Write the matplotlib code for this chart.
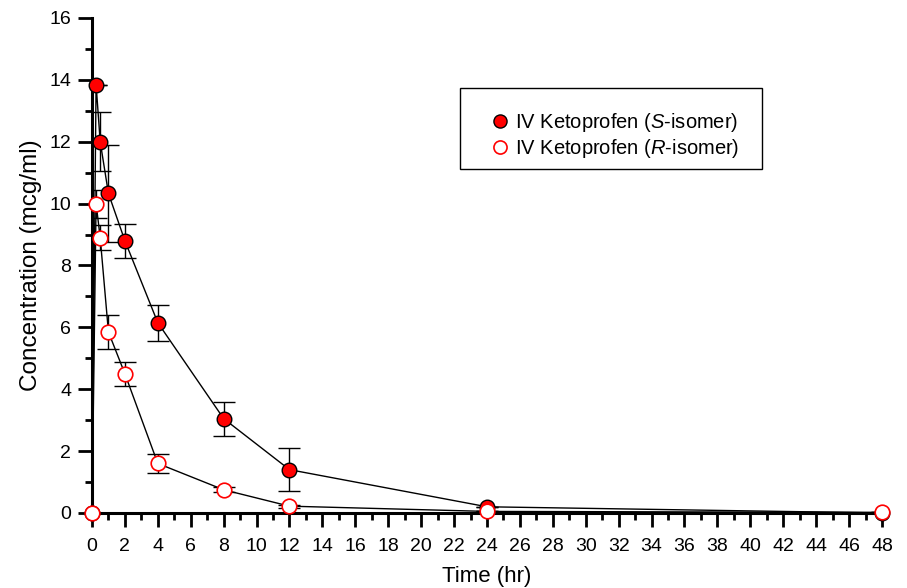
import numpy as np
import matplotlib.pyplot as plt
from matplotlib.ticker import MultipleLocator
from matplotlib.patches import Rectangle

plt.rcParams['font.family'] = ['Liberation Sans', 'DejaVu Sans']
plt.rcParams['mathtext.fontset'] = 'custom'
plt.rcParams['mathtext.rm'] = 'Liberation Sans'
plt.rcParams['mathtext.it'] = 'Liberation Sans:italic'

# time points (hr)
time_s = [0, 0.25, 0.5, 1, 2, 4, 8, 12, 24, 48]
conc_s = [0, 13.85, 12.0, 10.33, 8.8, 6.15, 3.05, 1.4, 0.2, 0.0]
err_s = [0, 0, 0.95, 1.58, 0.55, 0.58, 0.55, 0.69, 0, 0]

time_r = [0, 0.25, 0.5, 1, 2, 4, 8, 12, 24, 48]
conc_r = [0, 10.0, 8.9, 5.85, 4.5, 1.6, 0.75, 0.22, 0.05, 0.02]
err_r = [0, 0.45, 0.4, 0.55, 0.38, 0.3, 0.08, 0.05, 0, 0]

fig = plt.figure(figsize=(9.07, 5.88), dpi=100)
ax = fig.add_axes([0.1014, 0.1276, 0.871, 0.8418])

ax.errorbar(time_s, conc_s, yerr=err_s, fmt='none', ecolor='black',
            elinewidth=1, capsize=8, capthick=1, zorder=2)
ax.errorbar(time_r, conc_r, yerr=err_r, fmt='none', ecolor='black',
            elinewidth=1, capsize=8, capthick=1, zorder=2)

ax.plot(time_s, conc_s, '-', color='black', lw=1, zorder=3)
ax.plot(time_r, conc_r, '-', color='black', lw=1, zorder=3)
ax.plot(time_s, conc_s, 'o', ms=10.5, mfc='#ff0000', mec='black', mew=1,
        ls='none', clip_on=False, zorder=4, label=r'IV Ketoprofen ($\it{S}$-isomer)')
ax.plot(time_r, conc_r, 'o', ms=10.5, mfc='white', mec='#ff0000', mew=1.2,
        ls='none', clip_on=False, zorder=5, label=r'IV Ketoprofen ($\it{R}$-isomer)')

ax.set_xlim(0, 48)
ax.set_ylim(0, 16)
ax.xaxis.set_major_locator(MultipleLocator(2))
ax.xaxis.set_minor_locator(MultipleLocator(1))
ax.yaxis.set_major_locator(MultipleLocator(2))
ax.yaxis.set_minor_locator(MultipleLocator(1))

for s in ['top', 'right']:
    ax.spines[s].set_visible(False)
for s in ['left', 'bottom']:
    ax.spines[s].set_linewidth(2.2)

ax.tick_params(which='major', length=10, width=2, labelsize=14, direction='out')
ax.tick_params(which='minor', length=5, width=2, direction='out')
ax.tick_params(axis='x', which='major', pad=8)
ax.tick_params(axis='y', which='major', pad=5)

ax.set_xlabel('Time (hr)', fontsize=16, labelpad=8)
ax.set_ylabel('Concentration (mcg/ml)', fontsize=17.5, labelpad=5)

# legend box drawn separately so the padding matches the original
fig.patches.append(Rectangle((460 / 907, 1 - 169 / 588), 302 / 907, 81 / 588,
                             transform=fig.transFigure, fill=False,
                             edgecolor='black', lw=1))
leg = ax.legend(loc='center left', bbox_to_anchor=(480 / 907, 1 - 135.5 / 588),
                bbox_transform=fig.transFigure, fontsize=14.5, frameon=False,
                borderpad=0, handletextpad=0.25, handlelength=1.0,
                labelspacing=0.15, markerscale=0.9)

fig.savefig('out.png', dpi=100)
